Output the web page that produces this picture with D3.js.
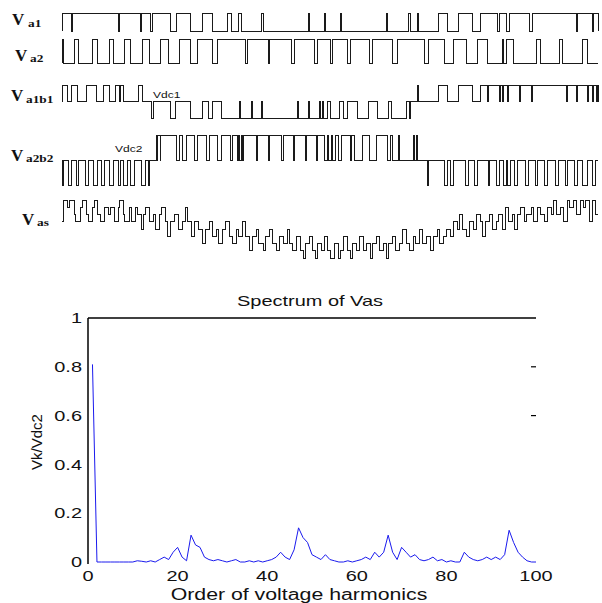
<!DOCTYPE html>
<html lang="en">
<head>
<meta charset="utf-8">
<title>Cascaded inverter waveforms and spectrum of Vas</title>
<style>
  body { margin: 0; background: #fff; }
  svg text { font-family: 'Liberation Sans', Arial, sans-serif; fill: #111; }
  text.lbl { font-family: 'Liberation Serif', 'Times New Roman', serif; font-weight: bold; }
</style>
<script src="https://cdn.jsdelivr.net/npm/d3@7"></script>
</head>
<body>
<script>
// time in ms over one 20 ms period; pulses are [start, end] (level 1) or [start, end, level]
var va1Pulses = [[0,0.37],[0.41,2.09],[2.13,2.93],[2.97,3.32],[3.38,4.03],[4.29,4.78],[5.26,5.60],
  [6.19,6.34],[6.60,6.68],[7.44,7.50],[9.20,9.24],[9.80,9.83],[10.39,10.43],[12.11,12.15],
  [12.93,13.00],[13.27,13.30],[14.03,14.37],[14.78,15.30],[15.60,16.25],[16.31,16.60],
  [16.68,17.46],[17.54,19.20],[19.24,19.80],[19.83,20]];

var va2Pulses = [[0,0.07],[0.45,0.60],[1.12,1.34],[1.79,1.94],[2.35,2.57],[2.99,3.28],[3.66,3.96],
  [4.40,4.78],[5.07,5.60],[5.82,6.83],[6.94,7.69],[7.76,8.58],[8.69,9.44],[9.55,10.00],
  [10.11,10.67],[10.75,11.49],[11.57,12.35],[12.50,13.54],[13.66,14.29],[14.59,15.11],
  [15.49,15.86],[16.42,16.47],[16.60,16.83],[17.72,17.84],[18.58,18.66],[19.44,19.59]];

var va1b1Pulses = [[0,0.19,1],[0.34,0.56,1],[0.93,1.27,1],[1.53,1.79,1],[2.01,2.13,1],[2.20,2.28,1],
  [2.84,2.99,1],[3.34,3.40,-1],[4.03,4.25,-1],[4.78,5.26,-1],[5.45,5.63,-1],[5.97,6.62,-1],
  [6.66,7.07,-1],[7.11,7.44,-1],[7.48,8.79,-1],[8.82,9.20,-1],[9.24,9.61,-1],[9.65,9.72,-1],
  [9.76,9.89,-1],[10.00,10.37,-1],[10.52,10.67,-1],[11.01,11.42,-1],[11.79,12.20,-1],
  [12.31,12.87,-1],[12.95,13.02,-1],[13.28,13.32,1],[14.03,14.37,1],[14.78,15.30,1],
  [15.60,15.86,1],[15.90,16.32,1],[16.36,16.44,1],[16.47,16.62,1],[16.66,17.07,1],
  [17.11,17.52,1],[17.56,18.82,1],[18.86,19.20,1],[19.24,19.61,1],[19.65,19.79,1],
  [19.83,19.94,1],[19.98,20,1]];

var va2b2Pulses = [[0,0.07,-1],[0.26,0.37,-1],[0.55,0.63,-1],[0.86,0.98,-1],[1.19,1.31,-1],
  [1.48,1.57,-1],[1.79,1.91,-1],[2.10,2.20,-1],[2.31,2.43,-1],[2.57,2.72,-1],[2.95,3.10,-1],
  [3.21,3.28,-1],[3.51,3.54,1],[3.58,3.66,1],[3.69,4.29,1],[4.40,4.51,1],
  [4.66,4.96,1],[5.07,5.41,1],[5.52,5.82,1],[5.97,6.27,1],[6.38,6.53,1],[6.57,6.64,1],
  [6.68,6.75,1],[6.79,7.26,1],[7.31,7.69,1],[7.76,8.20,1],[8.25,8.62,1],[8.69,9.07,1],
  [9.13,9.50,1],[9.55,9.81,1],[9.89,9.96,1],[10.04,10.11,1],[10.19,10.30,1],[10.44,10.75,1],
  [10.81,10.93,1],[11.23,11.49,1],[11.74,12.16,1],[12.24,12.35,1],[12.54,12.61,1],
  [13.10,13.17,1],[13.24,13.28,1],[13.62,13.68,-1],[14.29,14.38,-1],[14.48,14.59,-1],
  [15.04,15.15,-1],[15.41,15.52,-1],[15.90,15.97,-1],[16.23,16.34,-1],[16.49,16.57,-1],
  [16.64,16.72,-1],[16.90,16.98,-1],[17.28,17.39,-1],[17.65,17.76,-1],[18.02,18.13,-1],
  [18.40,18.51,-1],[18.77,18.88,-1],[19.14,19.25,-1],[19.44,19.59,-1],[19.81,19.89,-1]];

// Vas steps: [time ms, level], levels -4..4
var vasSteps = [[0,1],[0.06,4],[0.2,3],[0.28,4],[0.45,2],[0.52,1],[0.7,3],[0.78,4],[0.9,2],[1.0,1],
  [1.15,3],[1.2,4],[1.32,2],[1.45,1],[1.6,3],[1.75,2],[1.8,3],[1.95,1],[2.1,3],[2.15,4],[2.3,2],
  [2.35,1],[2.5,3],[2.6,1],[2.75,3],[2.8,2],[2.95,0],[3.05,2],[3.1,3],[3.25,1],[3.4,2],[3.5,0],
  [3.65,2],[3.7,3],[3.85,1],[3.95,-1],[4.05,1],[4.2,2],[4.35,0],[4.5,1],[4.6,3],[4.7,1],[4.85,-1],
  [4.95,1],[5.1,0],[5.25,-2],[5.35,0],[5.5,1],[5.6,-1],[5.75,0],[5.85,-2],[6.0,0],[6.1,1],
  [6.25,-1],[6.35,-2],[6.5,0],[6.6,-1],[6.75,1],[6.85,-1],[7.0,-3],[7.1,-1],[7.25,0],[7.35,-2],
  [7.5,-3],[7.6,-1],[7.75,0],[7.85,-2],[8.0,-3],[8.1,-1],[8.25,-2],[8.4,0],[8.5,-2],[8.6,-3],
  [8.75,-1],[8.9,-3],[9.0,-4],[9.1,-2],[9.25,-1],[9.35,-3],[9.45,-4],[9.55,-2],[9.7,-3],[9.8,-1],
  [9.9,-3],[10.0,-4],[10.15,-2],[10.3,-4],[10.4,-3],[10.5,-1],[10.65,-3],[10.75,-4],[10.85,-2],
  [11.0,-3],[11.1,-1],[11.25,-3],[11.35,-2],[11.5,-4],[11.6,-2],[11.75,-1],[11.85,-3],[12.0,-2],
  [12.1,-4],[12.2,-2],[12.35,-1],[12.45,-3],[12.6,-2],[12.7,0],[12.85,-2],[12.95,-3],[13.1,-1],
  [13.2,-2],[13.35,0],[13.45,-2],[13.6,-1],[13.75,-3],[13.85,-1],[14.0,0],[14.1,-2],[14.25,-1],
  [14.35,0],[14.5,-1],[14.6,1],[14.75,0],[14.85,2],[14.95,0],[15.1,-1],[15.2,1],[15.35,0],
  [15.45,2],[15.6,1],[15.7,-1],[15.8,1],[15.95,2],[16.05,0],[16.2,1],[16.3,2],[16.45,0],[16.55,3],
  [16.65,1],[16.8,2],[16.9,0],[17.0,2],[17.1,3],[17.25,1],[17.35,2],[17.5,3],[17.6,1],[17.75,3],
  [17.85,2],[18.0,1],[18.1,3],[18.25,2],[18.35,4],[18.45,2],[18.6,3],[18.7,1],[18.85,4],
  [18.95,3],[19.1,4],[19.2,2],[19.35,4],[19.45,3],[19.55,4],[19.7,1],[19.78,4],[19.9,2]];

// spectrum of Vas, harmonic orders 1..100, Vk/Vdc2
var spectrum = [0.81,0,0,0,0,0,0,0,0,0,
  0.005,0.003,0,0.005,0,0.01,0.02,0.01,0.04,0.06,
  0.02,0.005,0.11,0.07,0.06,0.02,0.01,0.005,0.01,0.005,
  0,0.005,0.01,0,0,0.005,0,0.005,0,0.005,
  0.01,0.02,0.04,0.02,0.01,0.05,0.14,0.10,0.08,0.03,
  0.02,0.01,0.03,0.01,0.005,0,0,0.005,0,0.005,
  0.01,0.02,0.01,0.04,0.02,0.04,0.11,0.04,0.01,0.06,
  0.04,0.02,0.03,0.01,0.005,0.01,0.02,0.005,0.01,0,
  0.005,0,0,0.04,0.02,0.01,0.005,0.01,0.02,0.01,
  0.02,0.01,0.03,0.13,0.08,0.04,0.02,0.005,0,0];
var xTicks = [0, 20, 40, 60, 80, 100];
var yTicks = [0, 0.2, 0.4, 0.6, 0.8, 1];
var rightTicks = [0.6, 0.8];

var W = 602, H = 603;
var svg = d3.select("body").append("svg")
    .attr("width", W)
    .attr("height", H);

var stretch = 1.33;

function widen(sel) {
    sel.each(function () {
        var w = this.getComputedTextLength();
        d3.select(this).attr("textLength", w * stretch).attr("lengthAdjust", "spacingAndGlyphs");
    });
}

/* WAVEFORMS */

var t = d3.scaleLinear().domain([0, 20]).range([62, 598]);

function pulsePath(pulses, y) {
    var pts = [[0, 0]];
    pulses.forEach(function (p) {
        var lv = p.length > 2 ? p[2] : 1;
        pts.push([p[0], 0], [p[0], lv], [p[1], lv], [p[1], 0]);
    });
    pts.push([20, 0]);
    return d3.line().x(function (d) { return t(d[0]); }).y(function (d) { return y(d[1]); })(pts);
}

var traces = [
    { pulses: va1Pulses, y: d3.scaleLinear().domain([0, 1]).range([31, 13]) },
    { pulses: va2Pulses, y: d3.scaleLinear().domain([0, 1]).range([63, 39]) },
    { pulses: va1b1Pulses, y: d3.scaleLinear().domain([-1, 1]).range([118.5, 85]) },
    { pulses: va2b2Pulses, y: d3.scaleLinear().domain([-1, 1]).range([185, 135]) }
];

traces.forEach(function (tr) {
    svg.append("path")
        .attr("d", pulsePath(tr.pulses, tr.y))
        .attr("fill", "none")
        .attr("stroke", "#1a1a1a")
        .attr("stroke-width", 1)
        .attr("shape-rendering", "crispEdges");
});

var vasY = d3.scaleLinear().domain([-4, 4]).range([258, 200]);
svg.append("path")
    .attr("d", d3.line().curve(d3.curveStepAfter)
        .x(function (d) { return t(d[0]); })
        .y(function (d) { return vasY(d[1]); })(vasSteps.concat([[20, vasSteps[vasSteps.length - 1][1]]])))
    .attr("fill", "none")
    .attr("stroke", "#1a1a1a")
    .attr("stroke-width", 1)
    .attr("shape-rendering", "crispEdges");

// trace names: big V plus subscript
var names = [
    { v: 12, vy: 25, sub: "a1", sx: 28, sy: 27 },
    { v: 15, vy: 61, sub: "a2", sx: 30, sy: 62 },
    { v: 11, vy: 101, sub: "a1b1", sx: 26, sy: 103 },
    { v: 11, vy: 161, sub: "a2b2", sx: 26, sy: 162 },
    { v: 22, vy: 225, sub: "as", sx: 37, sy: 226 }
];
names.forEach(function (n) {
    svg.append("text").attr("class", "lbl")
        .attr("x", n.v).attr("y", n.vy)
        .attr("font-size", 17)
        .text("V");
    svg.append("text").attr("class", "lbl")
        .attr("x", n.sx).attr("y", n.sy)
        .attr("font-size", 10)
        .text(n.sub)
        .call(widen);
});

svg.append("text").attr("x", 153).attr("y", 98).attr("font-size", 9).text("Vdc1").call(widen);
svg.append("text").attr("x", 115).attr("y", 152).attr("font-size", 9).text("Vdc2").call(widen);

/* SPECTRUM */

var x = d3.scaleLinear().domain([0, 100]).range([88, 536]);
var y = d3.scaleLinear().domain([0, 1]).range([562, 318]);

svg.append("line")
    .attr("x1", x(0)).attr("x2", x(100))
    .attr("y1", y(1)).attr("y2", y(1))
    .attr("stroke", "#000").attr("stroke-width", 1.5);
svg.append("line")
    .attr("x1", x(0)).attr("x2", x(0))
    .attr("y1", y(1)).attr("y2", y(0) + 2)
    .attr("stroke", "#000").attr("stroke-width", 1.5);

svg.selectAll(".rt").data(rightTicks).enter().append("line")
    .attr("x1", x(100) - 5).attr("x2", x(100))
    .attr("y1", function (d) { return y(d); }).attr("y2", function (d) { return y(d); })
    .attr("stroke", "#000").attr("stroke-width", 1.2);

svg.append("path")
    .datum(spectrum)
    .attr("fill", "none")
    .attr("stroke", "#1a1aee")
    .attr("stroke-width", 1)
    .attr("d", d3.line()
        .x(function (d, i) { return x(i + 1); })
        .y(function (d) { return y(d); }));

svg.selectAll(".yt").data(yTicks).enter().append("text")
    .attr("x", 82).attr("y", function (d) { return y(d); })
    .attr("dy", "0.35em")
    .attr("text-anchor", "end")
    .attr("font-size", 15)
    .text(function (d) { return d; })
    .call(widen);

svg.selectAll(".xt").data(xTicks).enter().append("text")
    .attr("x", function (d) { return x(d); }).attr("y", 581)
    .attr("text-anchor", "middle")
    .attr("font-size", 15)
    .text(function (d) { return d; })
    .call(widen);

svg.append("text")
    .attr("x", 310).attr("y", 306)
    .attr("text-anchor", "middle")
    .attr("font-size", 15)
    .text("Spectrum of Vas")
    .call(widen);

svg.append("text")
    .attr("x", 299).attr("y", 600)
    .attr("text-anchor", "middle")
    .attr("font-size", 16)
    .text("Order of voltage harmonics")
    .call(widen);

svg.append("text")
    .attr("transform", "translate(42,442) rotate(-90)")
    .attr("text-anchor", "middle")
    .attr("font-size", 15)
    .text("Vk/Vdc2");
</script>
</body>
</html>
